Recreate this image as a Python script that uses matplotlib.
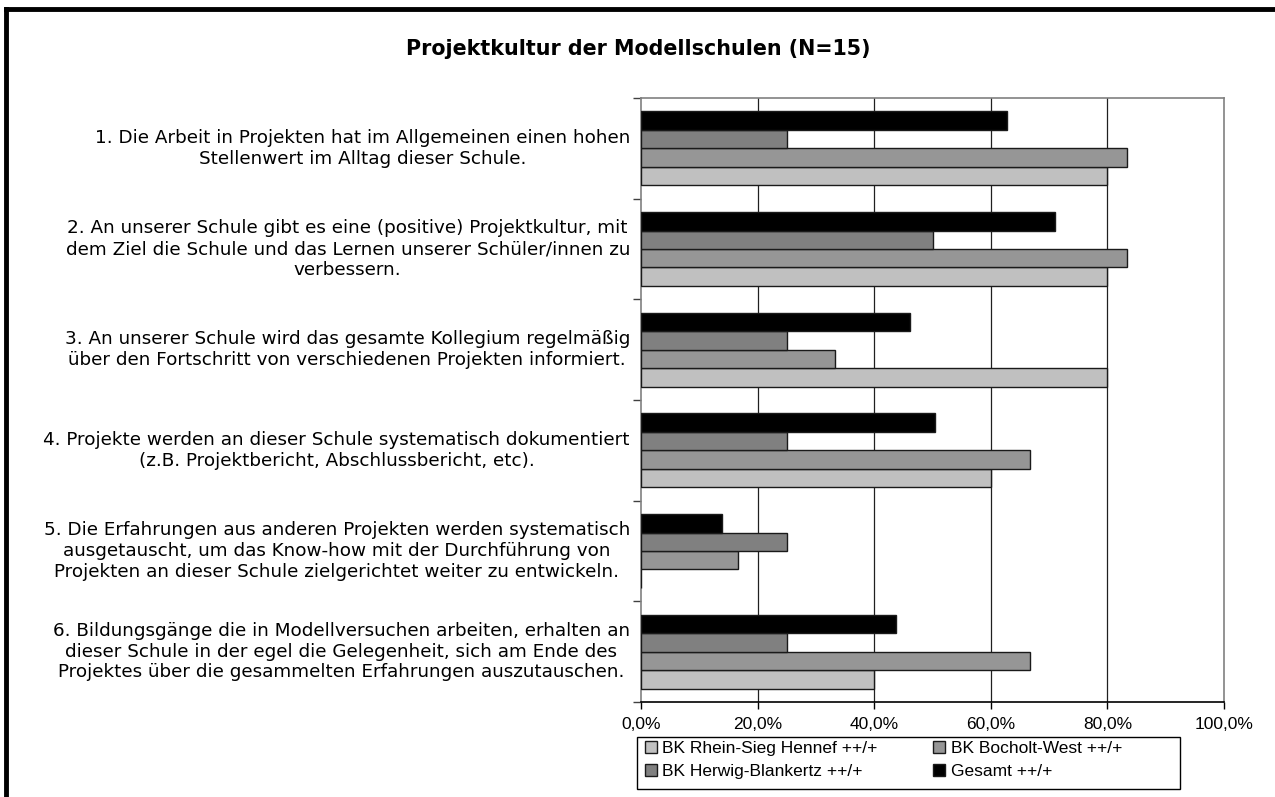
import matplotlib
matplotlib.use("Agg")
import matplotlib.pyplot as plt
from matplotlib.lines import Line2D
from matplotlib.patches import Rectangle
from matplotlib.ticker import FuncFormatter, FixedLocator
import numpy as np

plt.rcParams['font.family'] = ['Liberation Sans', 'DejaVu Sans']

title = "Projektkultur der Modellschulen (N=15)"
categories = [
    "1. Die Arbeit in Projekten hat im Allgemeinen einen hohen\nStellenwert im Alltag dieser Schule.",
    "2. An unserer Schule gibt es eine (positive) Projektkultur, mit\ndem Ziel die Schule und das Lernen unserer Schüler/innen zu\nverbessern.",
    "3. An unserer Schule wird das gesamte Kollegium regelmäßig\nüber den Fortschritt von verschiedenen Projekten informiert.",
    "4. Projekte werden an dieser Schule systematisch dokumentiert\n(z.B. Projektbericht, Abschlussbericht, etc).",
    "5. Die Erfahrungen aus anderen Projekten werden systematisch\nausgetauscht, um das Know-how mit der Durchführung von\nProjekten an dieser Schule zielgerichtet weiter zu entwickeln.",
    "6. Bildungsgänge die in Modellversuchen arbeiten, erhalten an\ndieser Schule in der egel die Gelegenheit, sich am Ende des\nProjektes über die gesammelten Erfahrungen auszutauschen.",
]
series_names = ["BK Rhein-Sieg Hennef ++/+", "BK Bocholt-West ++/+",
                "BK Herwig-Blankertz ++/+", "Gesamt ++/+"]
rhein_sieg = [80.0, 80.0, 80.0, 60.0, 0.0, 40.0]
bocholt_west = [83.3, 83.3, 33.3, 66.7, 16.7, 66.7]
herwig_blankertz = [25.0, 50.0, 25.0, 25.0, 25.0, 25.0]
gesamt = [62.7, 71.0, 46.1, 50.5, 13.9, 43.8]
x_ticks = [0, 20, 40, 60, 80, 100]

colors = ["#C0C0C0", "#969696", "#808080", "#000000"]

W, H = 1275, 797
fig = plt.figure(figsize=(W/100, H/100), dpi=100)
ax = fig.add_axes([641/W, 1 - 702/H, (1224-641)/W, (702-98)/H])

y = np.arange(len(categories))
h = 0.183
data = [rhein_sieg, bocholt_west, herwig_blankertz, gesamt]
offsets = [1.5*h, 0.5*h, -0.5*h, -1.5*h]
handles = []
for vals, off, col, name in zip(data, offsets, colors, series_names):
    b = ax.barh(y + off, vals, height=h, color=col, edgecolor="#1a1a1a",
                linewidth=1.0, label=name, zorder=3)
    handles.append(b)

ax.set_xlim(0, 100)
ax.set_ylim(len(categories) - 0.5, -0.5)
ax.xaxis.set_major_locator(FixedLocator(x_ticks))
ax.xaxis.set_major_formatter(FuncFormatter(lambda v, p: f"{v:.1f}".replace(".", ",") + "%"))
ax.yaxis.set_major_locator(FixedLocator(np.arange(-0.5, len(categories), 1.0)))
ax.set_yticklabels([])
ax.tick_params(axis='x', direction='out', length=5, width=1, pad=6, labelsize=12.5, colors='black')
ax.tick_params(axis='y', direction='out', length=6, width=1, color='#404040')
for v in x_ticks[1:-1]:
    ax.axvline(v, color='#202020', linewidth=0.9, zorder=1)

for s in ['top', 'right', 'left']:
    ax.spines[s].set_color('#808080')
    ax.spines[s].set_linewidth(1.2)
ax.spines['bottom'].set_color('black')
ax.spines['bottom'].set_linewidth(1.2)

for yi, lab in zip(y, categories):
    ax.text(-0.019, yi, lab, transform=ax.get_yaxis_transform(),
            ha='right', va='center', multialignment='center',
            fontsize=13.2, linespacing=1.2, family=['DejaVu Sans'])

fig.text(638/W, 1 - 49/H, title, ha='center', va='center',
         fontsize=14.9, fontweight='bold', family=['DejaVu Sans'])

# legend frame drawn separately
fig.add_artist(Rectangle((637/W, 1 - 789/H), (1180-637)/W, (789-737)/H,
                         transform=fig.transFigure, facecolor='white',
                         edgecolor='black', linewidth=1.0))
order = [0, 2, 1, 3]
leg = fig.legend([handles[i] for i in order], [series_names[i] for i in order],
                 ncol=2, loc='upper left', bbox_to_anchor=(645/W, 1 - 741/H),
                 frameon=False, fontsize=12.5,
                 handlelength=0.7, handleheight=0.7, handletextpad=0.3,
                 columnspacing=3.2, borderpad=0.0, labelspacing=0.45,
                 borderaxespad=0)

# outer frame (left and top)
fig.add_artist(Line2D([6/W, 6/W], [0, 1 - 9/H], transform=fig.transFigure,
                      color='black', linewidth=3.5))
fig.add_artist(Line2D([6/W, 1], [1 - 9/H, 1 - 9/H], transform=fig.transFigure,
                      color='black', linewidth=3.5))

fig.savefig("out.png", dpi=100)
